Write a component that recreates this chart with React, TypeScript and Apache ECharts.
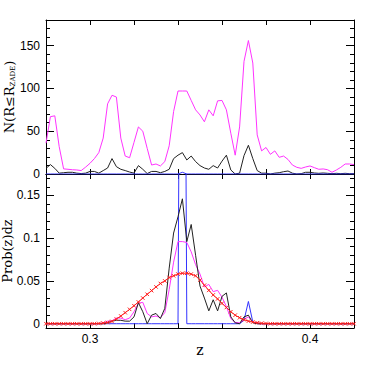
import React, { useEffect, useRef } from "react";
import * as echarts from "echarts";

const Z = [
  0.28, 0.282, 0.284, 0.286, 0.288, 0.29, 0.292, 0.294, 0.296, 0.298,
  0.3, 0.302, 0.304, 0.306, 0.308, 0.31, 0.312, 0.314, 0.316, 0.318,
  0.32, 0.322, 0.324, 0.326, 0.328, 0.33, 0.332, 0.334, 0.336, 0.338,
  0.34, 0.342, 0.344, 0.346, 0.348, 0.35, 0.352, 0.354, 0.356, 0.358,
  0.36, 0.362, 0.364, 0.366, 0.368, 0.37, 0.372, 0.374, 0.376, 0.378,
  0.38, 0.382, 0.384, 0.386, 0.388, 0.39, 0.392, 0.394, 0.396, 0.398,
  0.4, 0.402, 0.404, 0.406, 0.408, 0.41, 0.412, 0.414, 0.416, 0.418, 0.42,
];

// Top panel: N(R <= R_ZADE)
const topMagenta = [
  36, 67, 68, 32, 6, 5.5, 5, 4.7, 4, 8,
  12.5, 18, 25, 42, 82, 92, 90, 42, 21, 19,
  37, 55, 50, 30, 10.5, 11.7, 9.4, 14.5, 33, 73,
  97, 97, 97, 86, 75, 69, 61, 75, 68, 85.5,
  86, 75, 47.7, 22, 55, 131.6, 156, 129.7, 45.7, 27,
  31, 23, 27, 19.5, 21, 17, 10.5, 7.8, 6.6, 8.2,
  9.4, 7.4, 5.5, 5.9, 5, 2, 4.7, 7.8, 11.7, 11.7, 11,
];
const topBlack = [
  6.6, 11, 6.6, 1, 1.5, 2, 2, 1, 0.5, 1,
  3, 3, 1, 4, 7, 18, 8.6, 5.5, 4, 2.3,
  1, 9.8, 5.5, 0.5, 3, 3, 1.5, 3, 5.5, 18,
  22, 25, 16.4, 21, 14.5, 9.8, 7, 5.5, 9.8, 7,
  15, 22, 4.7, 0, 1, 21.5, 33.6, 18, 4, 1,
  1, 0, 1, 1.5, 2.7, 3.5, 1, 0, 0.4, 2,
  2, 1.2, 0.8, 1.2, 0.8, 0.4, 0.8, 0.4, 0.8, 0.4, 0.4,
];
const topBlue = [
  0, 0, 0, 0, 0, 0, 0, 0, 0, 0,
  0, 0, 0, 0, 0, 0, 0, 0, 0, 0,
  0, 0, 0, 0, 0, 0, 0, 0, 0, 0,
  0, 2, 0, 0, 0, 0, 0, 0, 0, 0,
  0, 0, 0, 0, 0, 0, 0, 0, 0, 0,
  0, 0, 0, 0, 0, 0, 0, 0, 0, 0,
  0, 0, 0, 0, 0, 0, 0, 0, 0, 0, 0,
];

// Bottom panel: Prob(z)dz
const botMagenta = [
  0, 0, 0, 0, 0, 0, 0, 0, 0, 0,
  0, 0, 0, 0.001, 0.003, 0.0035, 0.0066, 0.0066, 0.0047, 0.0066,
  0.014, 0.024, 0.025, 0.012, 0.008, 0.009, 0.007, 0.013, 0.04, 0.072,
  0.096, 0.096, 0.095, 0.084, 0.069, 0.058, 0.043, 0.046, 0.0375, 0.039,
  0.031, 0.02, 0.006, 0.0016, 0.001, 0.005, 0.008, 0.002, 0.0008, 0,
  0, 0, 0, 0, 0, 0, 0, 0, 0, 0,
  0, 0, 0, 0, 0, 0, 0, 0, 0, 0, 0,
];
const botBlack = [
  0, 0, 0, 0, 0, 0, 0, 0, 0, 0,
  0, 0, 0, 0, 0.001, 0.003, 0.004, 0.004, 0.003, 0.003,
  0.008, 0.0246, 0.014, 0, 0.01, 0.012, 0.006, 0.018, 0.065, 0.106,
  0.125, 0.146, 0.096, 0.116, 0.08, 0.044, 0.03, 0.015, 0.028, 0.015,
  0.032, 0.036, 0.008, 0.001, 0, 0.008, 0.01, 0.001, 0, 0,
  0, 0, 0, 0, 0, 0, 0, 0, 0, 0,
  0, 0, 0, 0, 0, 0, 0, 0, 0, 0, 0,
];
const botBlue = [
  0, 0, 0, 0, 0, 0, 0, 0, 0, 0,
  0, 0, 0, 0, 0, 0, 0, 0, 0, 0,
  0, 0, 0, 0, 0, 0, 0, 0, 0, 0,
  0, 1.0, 0, 0, 0, 0, 0, 0, 0, 0,
  0, 0, 0, 0, 0, 0.004, 0.026, 0.002, 0, 0,
  0, 0, 0, 0, 0, 0, 0, 0, 0, 0,
  0, 0, 0, 0, 0, 0, 0, 0, 0, 0, 0,
];
const botRed = [
  0, 0, 0, 0, 0, 0, 0, 0, 0, 0,
  0, 0, 0.0003, 0.0008, 0.0015, 0.0027, 0.0055, 0.009, 0.0129, 0.0168,
  0.021, 0.0254, 0.03, 0.0344, 0.0387, 0.043, 0.047, 0.05, 0.054, 0.056,
  0.058, 0.059, 0.059, 0.058, 0.056, 0.051, 0.045, 0.039, 0.0336, 0.029,
  0.0238, 0.019, 0.014, 0.01, 0.007, 0.0047, 0.003, 0.002, 0.0012, 0.0006,
  0.0003, 0, 0, 0, 0, 0, 0, 0, 0, 0,
  0, 0, 0, 0, 0, 0, 0, 0, 0, 0, 0,
];

const xLabelValues = [0.3, 0.4];
const topMajorTicks = [0, 50, 100, 150];
const botMajorTicks = [0, 0.05, 0.1, 0.15];
const botMinorTicks = [0.01, 0.02, 0.03, 0.04, 0.06, 0.07, 0.08, 0.09, 0.11, 0.12, 0.13, 0.14, 0.16, 0.17];

const pairs = (ys: number[]) => Z.map((z, i) => [z, ys[i]]);

export default function App() {
  const ref = useRef<HTMLDivElement>(null);
  useEffect(() => {
    if (!ref.current) return;
    const chart = echarts.init(ref.current, null, { renderer: "svg" });
    const axisLine = { show: true, onZero: false, lineStyle: { color: "#000", width: 1 } };
    const tickStyle = { color: "#000", width: 1 };
    const labelFont = { fontFamily: "Liberation Sans", fontSize: 12, color: "#000" };
    const titleFont = { fontFamily: "DejaVu Serif", fontSize: 13, color: "#000" };

    const xAx = (gridIndex: number, position: string, labels: boolean) => ({
      type: "value",
      gridIndex,
      position,
      min: 0.28,
      max: 0.42,
      interval: 0.02,
      axisLine,
      axisTick: { show: true, inside: true, length: 5, lineStyle: tickStyle },
      splitLine: { show: false },
      axisLabel: labels
        ? {
            show: true,
            margin: 5,
            ...labelFont,
            formatter: (v: number) => {
              for (const t of xLabelValues) if (Math.abs(v - t) < 1e-6) return String(t);
              return "";
            },
          }
        : { show: false },
      ...(labels
        ? {
            name: "z",
            nameLocation: "middle",
            nameGap: 15,
            nameMoveOverlap: false,
            nameTextStyle: { ...titleFont, fontSize: 14 },
          }
        : {}),
    });

    const topY = (position: string, major: boolean, labels: boolean) => ({
      type: "value",
      gridIndex: 0,
      position,
      min: 0,
      max: 180,
      interval: major ? 50 : 10,
      axisLine: major ? axisLine : { show: false },
      axisTick: { show: true, inside: true, length: major ? 8 : 4, lineStyle: tickStyle },
      splitLine: { show: false },
      axisLabel: labels
        ? {
            show: true,
            margin: 6,
            ...labelFont,
            formatter: (v: number) => (topMajorTicks.indexOf(v) >= 0 ? String(v) : ""),
          }
        : { show: false },
      ...(labels
        ? {
            name: "N(R≤R{sub|ZADE})",
            nameLocation: "middle",
            nameGap: 30,
            nameMoveOverlap: false,
            nameRotate: 90,
            nameTextStyle: {
              ...titleFont,
              rich: {
                sub: { fontFamily: "DejaVu Serif", fontSize: 7, color: "#000", verticalAlign: "bottom", padding: [7, 0, 0, 0] },
              },
            },
          }
        : {}),
    });

    const botY = (position: string, major: boolean, labels: boolean) => ({
      type: "value",
      gridIndex: 1,
      position,
      min: -0.005,
      max: 0.175,
      axisLine: major ? axisLine : { show: false },
      axisTick: {
        show: true,
        inside: true,
        length: major ? 8 : 4,
        lineStyle: tickStyle,
        customValues: major ? botMajorTicks : botMinorTicks,
      },
      splitLine: { show: false },
      axisLabel: labels
        ? { show: true, margin: 6, ...labelFont, customValues: botMajorTicks, formatter: (v: number) => String(+v.toFixed(3)) }
        : { show: false },
      ...(labels
        ? {
            name: "Prob(z)dz",
            nameLocation: "middle",
            nameGap: 32,
            nameMoveOverlap: false,
            nameRotate: 90,
            nameTextStyle: titleFont,
          }
        : {}),
    });

    const line = (name: string, data: number[], color: string, xi: number, yi: number, z: number) => ({
      name,
      type: "line",
      xAxisIndex: xi,
      yAxisIndex: yi,
      data: pairs(data),
      showSymbol: false,
      symbol: "none",
      clip: true,
      z,
      lineStyle: { color, width: 1 },
      itemStyle: { color },
    });

    chart.setOption({
      animation: false,
      backgroundColor: "#fff",
      textStyle: { fontFamily: "Liberation Sans" },
      grid: [
        { left: 46, right: 20, top: 20, height: 154, containLabel: false, outerBoundsMode: "none" },
        { left: 46, right: 20, top: 174, height: 154, containLabel: false, outerBoundsMode: "none" },
      ],
      xAxis: [xAx(0, "bottom", false), xAx(0, "top", false), xAx(1, "bottom", true), xAx(1, "top", false)],
      yAxis: [
        topY("left", true, true),
        topY("left", false, false),
        topY("right", true, false),
        topY("right", false, false),
        botY("left", true, true),
        botY("left", false, false),
        botY("right", true, false),
        botY("right", false, false),
      ],
      series: [
        line("topBlue", topBlue, "#3333ff", 0, 0, 3),
        line("topMagenta", topMagenta, "#ff33ff", 0, 0, 2),
        line("topBlack", topBlack, "#222222", 0, 0, 2),
        line("botBlue", botBlue, "#3333ff", 2, 4, 2),
        line("botMagenta", botMagenta, "#ff33ff", 2, 4, 2),
        line("botBlack", botBlack, "#222222", 2, 4, 2),
        {
          ...line("botRed", botRed, "#ff2020", 2, 4, 3),
          showSymbol: true,
          symbol: "path://M0,0L10,10M10,0L0,10",
          symbolSize: 3.5,
          itemStyle: { color: "none", borderColor: "#ff2020", borderWidth: 1 },
        },
      ],
    });
    return () => chart.dispose();
  }, []);
  return <div ref={ref} style={{ position: "fixed", left: 0, top: 0, width: 374, height: 374, background: "#fff" }} />;
}
